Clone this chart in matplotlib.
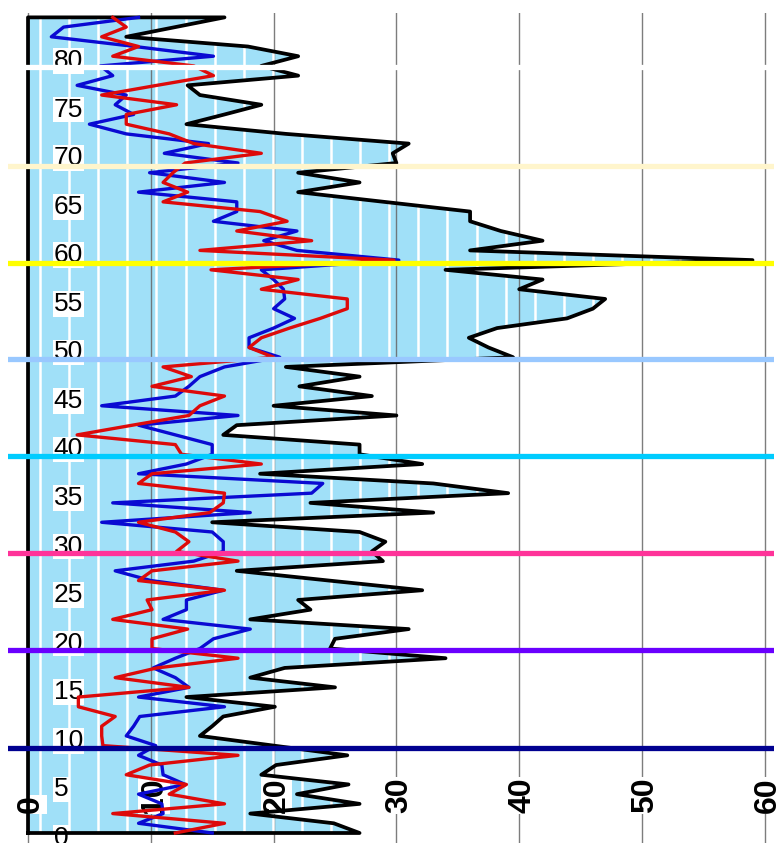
import numpy as np
import matplotlib.pyplot as plt
from matplotlib.patches import Polygon
import matplotlib.transforms as mtransforms

# values, one per depth step (bottom -> top)
black_vals = [27.0, 24.9, 18.1, 27.0, 21.9, 26.1, 19.0, 20.2, 26.0, 20.0,
              14.0, 15.0, 15.9, 20.1, 12.9, 25.0, 18.1, 20.9, 34.0, 24.6,
              25.0, 31.0, 18.1, 23.0, 22.0, 32.1, 24.5, 17.0, 28.9, 28.0,
              29.1, 27.0, 15.0, 33.0, 23.0, 39.1, 33.0, 18.9, 32.1, 27.0,
              27.0, 15.9, 17.0, 30.0, 20.0, 28.0, 22.1, 27.0, 21.0, 39.5,
              37.5, 35.9, 38.2, 43.9, 46.0, 47.0, 40.0, 41.9, 34.0, 59.0,
              36.0, 41.9, 38.5, 36.0, 36.0, 29.0, 22.0, 27.0, 22.0, 30.0,
              29.7, 31.0, 21.0, 12.9, 16.0, 19.0, 14.0, 13.0, 22.0, 19.0,
              22.0, 17.9, 8.0, 12.0, 16.0]
blue_vals = [15.0, 9.0, 11.0, 10.9, 9.0, 12.8, 11.0, 10.9, 9.0, 10.4,
             8.0, 8.6, 9.1, 16.0, 9.0, 13.1, 12.0, 10.2, 12.0, 14.0,
             15.1, 18.1, 11.0, 12.9, 12.9, 15.9, 10.0, 7.1, 13.5, 15.9,
             15.9, 15.0, 6.0, 18.1, 6.9, 23.1, 24.0, 9.0, 12.9, 15.0,
             15.0, 12.0, 9.0, 17.1, 6.0, 12.0, 13.1, 14.0, 16.0, 20.5,
             18.0, 18.0, 20.0, 21.7, 20.0, 20.9, 20.8, 20.0, 19.0, 30.2,
             21.9, 19.2, 21.9, 15.1, 17.0, 17.0, 9.0, 16.0, 9.9, 17.1,
             11.1, 14.7, 8.0, 5.0, 8.6, 7.1, 8.0, 4.0, 6.9, 5.9,
             15.1, 8.7, 1.9, 2.9, 9.0]
red_vals = [12.0, 16.0, 6.9, 16.0, 11.5, 12.9, 8.0, 9.9, 17.1, 6.1,
            6.0, 6.0, 7.1, 4.1, 4.1, 13.1, 7.1, 10.5, 17.1, 10.1,
            10.1, 13.0, 6.9, 10.1, 9.7, 16.0, 9.0, 10.1, 17.1, 12.1,
            13.1, 12.0, 9.0, 14.8, 15.9, 16.0, 9.0, 10.1, 19.0, 12.5,
            12.0, 4.0, 8.5, 13.1, 14.0, 16.0, 10.1, 13.3, 11.0, 20.0,
            18.0, 19.0, 21.3, 23.8, 26.0, 26.0, 19.0, 22.0, 14.9, 29.8,
            14.0, 23.1, 17.0, 21.1, 18.9, 11.0, 13.0, 11.0, 11.8, 12.8,
            19.0, 13.5, 11.5, 8.0, 8.0, 12.1, 6.0, 10.5, 15.1, 13.5,
            6.9, 9.0, 6.0, 8.0, 6.9]
depth = np.arange(len(black_vals))

x_ticks = [0, 10, 20, 30, 40, 50, 60]
y_ticks = list(range(0, 85, 5))
band_edges = [8.8, 18.8, 28.8, 38.8, 48.8, 58.7, 68.7, 78.9]
band_colors = ['#000090', '#6a00ff', '#ff3399', '#00ccff',
               '#99c8ff', '#ffff00', '#fff5cc', '#ffffff']

fig = plt.figure(figsize=(7.78, 8.43), dpi=100)
ax = fig.add_axes([8 / 778, 0, 766 / 778, 830 / 843])
ax.set_xlim(-1.63, 60.75)
ax.set_ylim(-1.03, 84.45)
ax.axis('off')

# light blue area between the axis and the black profile
verts = [(0, depth[0])] + list(zip(black_vals, depth)) + [(0, depth[-1])]
area = Polygon(verts, closed=True, facecolor='#a0e0f8', edgecolor='none', zorder=1)
ax.add_patch(area)

# vertical gridlines
for xv in x_ticks:
    ax.axvline(xv, color='#666666', lw=1.0, alpha=0.85, zorder=2)

# white stripe pattern inside the area
stripes = ax.vlines(np.arange(0.98, 61, 2.37), -2, 86, colors='white', lw=1.8, zorder=3)
stripes.set_clip_path(area)

# tick labels drawn inside the plot
for v in y_ticks:
    ax.text(2.1, v - 0.5, str(v), fontsize=19, family='Liberation Sans',
            ha='left', va='center', zorder=4,
            bbox=dict(facecolor='white', edgecolor='none', pad=0.5))
trans = mtransforms.blended_transform_factory(ax.transData, ax.transAxes)
for v in x_ticks:
    ax.text(v + 0.25, 0.036, str(v), transform=trans, rotation=90,
            rotation_mode='anchor', ha='left', va='center',
            fontsize=23, fontweight='bold', family='Liberation Sans', zorder=4,
            bbox=dict(facecolor='white', edgecolor='none', pad=0.5))

# profile outline (closed to the axis), then the two other series
ax.plot([0] + black_vals + [0, 0], [depth[0]] + list(depth) + [depth[-1], depth[0]],
        color='black', lw=2.7, zorder=5)
ax.plot(blue_vals, depth, color='#0a0ad2', lw=2.4, zorder=6)
ax.plot(red_vals, depth, color='#dd0a0a', lw=2.4, zorder=7)

# coloured boundary lines
for yb, c in zip(band_edges, band_colors):
    ax.axhline(yb, color=c, lw=3.8, zorder=8)

fig.savefig('out.png', dpi=100)
